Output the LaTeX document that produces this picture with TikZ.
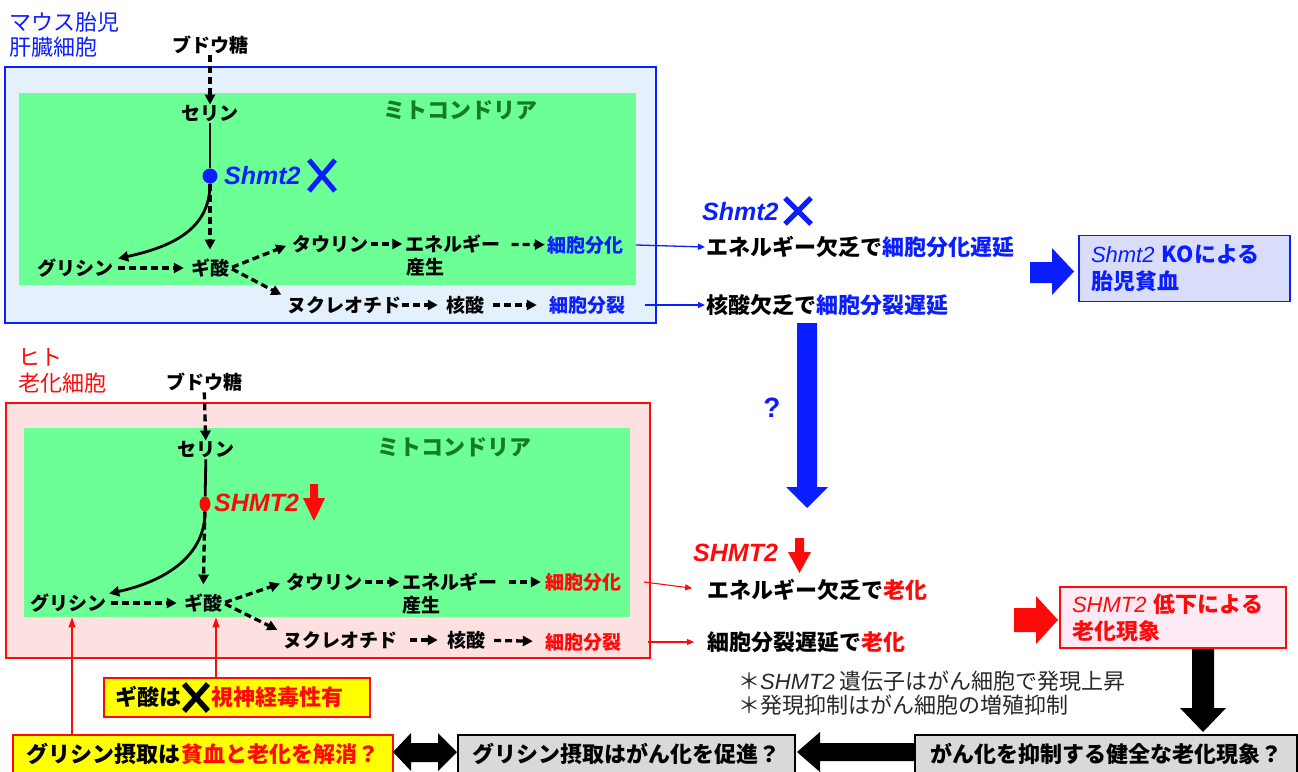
\documentclass[tikz,border=0pt]{standalone}
\usepackage{fontspec}
\setmainfont{Noto Sans CJK JP}
\newfontfamily\arial{Liberation Sans}
\usetikzlibrary{arrows.meta,shapes.geometric}
\definecolor{blueC}{RGB}{10,30,255}
\definecolor{redC}{RGB}{255,10,10}
\definecolor{lblue}{RGB}{228,240,252}
\definecolor{pinkC}{RGB}{253,224,224}
\definecolor{greenC}{RGB}{107,255,149}
\definecolor{dgreen}{RGB}{20,125,35}
\definecolor{lav}{RGB}{218,221,250}
\definecolor{lpink}{RGB}{253,234,245}
\definecolor{yel}{RGB}{255,255,0}
\definecolor{grayC}{RGB}{217,217,217}
\definecolor{noteC}{RGB}{40,40,40}
\begin{document}
\begin{tikzpicture}[x=1pt,y=-1pt,
  lbl/.style={inner sep=1pt, font=\fontsize{19}{21}\selectfont\bfseries},
  big/.style={inner sep=1pt, font=\fontsize{22}{24}\selectfont\bfseries},
  captxt/.style={inner sep=1pt, anchor=west, font=\fontsize{22}{24}\selectfont},
  gene/.style={inner sep=1pt, anchor=west, font=\arial\fontsize{25}{27}\selectfont\bfseries\itshape},
  darr/.style={line width=3.3pt, dash pattern=on 7pt off 4pt, -{Triangle[length=10pt,width=10pt]}},
  sline/.style={line width=2.8pt},
  tarr/.style={line width=1.3pt, -{Triangle[length=7pt,width=6pt]}},
  xmark/.style={line width=5pt},
  box/.style={line width=1.3pt, inner xsep=12pt, inner ysep=2pt, align=left,
     font=\fontsize{22}{27}\selectfont\bfseries},
  bbox/.style={line width=1.3pt, inner sep=2pt, minimum height=38pt,
     font=\fontsize{22}{24}\selectfont\bfseries}
]
\path[use as bounding box] (0,0) rectangle (1298,771);
\clip (0,0) rectangle (1298,771);

% ================= top panel =================
\node[captxt, text=blueC] (mouse) at (8,22) {マウス胎児};
\node[captxt, text=blueC] (liver) at (8,47) {肝臓細胞};
\draw[blueC, line width=1.2pt, fill=lblue] (5,67) rectangle (656,323);
\fill[greenC] (19,93) rectangle (636,285);

\node[lbl] (budo1) at (210,45) {ブドウ糖};
\node[lbl] (serin1) at (210,114) {セリン};
\node[big, text=dgreen] (mito1) at (460,110) {ミトコンドリア};
\node[circle, fill=blueC, minimum size=15pt, inner sep=0] (dot1) at (210,176) {};
\node[gene, text=blueC] (shmt1) at (223,176) {Shmt2};
\draw[xmark, blueC] (309,160) -- (335,191) (335,160) -- (309,191);
\node[lbl] (gly1) at (75,268) {グリシン};
\node[lbl] (gi1) at (210,268) {ギ酸};
\node[lbl] (tau1) at (330,244) {タウリン};
\node[lbl] (ene1) at (453,244) {エネルギー};
\node[lbl] (sansei1) at (425,267) {産生};
\node[lbl, text=blueC] (bunka1) at (585,245) {細胞分化};
\node[lbl] (nuc1) at (344,305) {ヌクレオチド};
\node[lbl] (kaku1) at (465,305) {核酸};
\node[lbl, text=blueC] (bunretsu1) at (587,305) {細胞分裂};

\draw[darr] (budo1) -- (serin1);
\draw[sline] (serin1) -- (dot1);
\draw[sline, -{Triangle[length=10pt,width=10pt]}] (dot1.south) .. controls +(0,45) and +(55,-12) .. ([xshift=4pt,yshift=-1pt]gly1.north east);
\draw[darr, shorten >=8pt] (dot1) -- (gi1);
\draw[darr, shorten <=4pt, shorten >=6pt] (gly1) -- (gi1);
\draw[darr, shorten <=2pt, shorten >=5pt] (gi1.east) -- (tau1.west);
\draw[darr, shorten <=2pt, shorten >=5pt] (gi1.east) -- ([yshift=-2pt]nuc1.north west);
\draw[darr, shorten <=2pt, shorten >=2pt] (tau1) -- (ene1);
\draw[darr, shorten <=10pt, shorten >=1pt] (ene1) -- (bunka1);
\draw[darr, shorten >=7pt] (nuc1) -- (kaku1);
\draw[darr, shorten <=8pt, shorten >=11pt] (kaku1) -- (bunretsu1);

% right of top panel
\node[gene, text=blueC] (shmtR1) at (701,212) {Shmt2};
\draw[xmark, blueC] (785,198) -- (811,224) (811,198) -- (785,224);
\node[big, anchor=west] (r1) at (705,247) {エネルギー欠乏で\textcolor{blueC}{細胞分化遅延}};
\node[big, anchor=west] (r2) at (705,305) {核酸欠乏で\textcolor{blueC}{細胞分裂遅延}};
\draw[tarr, blueC] ([xshift=12pt]bunka1.east) -- (r1.west);
\draw[tarr, blueC] ([xshift=19pt]bunretsu1.east) -- (r2.west);

\fill[blueC] (1030,262) -- (1052,262) -- (1052,248) -- (1074,271.5) -- (1052,295) -- (1052,283) -- (1030,283) -- cycle;
\node[box, draw=blueC, fill=lav, text=blueC, minimum width=211pt, minimum height=66pt, text width=187pt] (ko) at (1184.5,268.5)
  {{\arial\mdseries\itshape Shmt2} KOによる\\胎児貧血};

\fill[blueC] (797,323) -- (817,323) -- (817,487) -- (828,487) -- (807,508) -- (786,487) -- (797,487) -- cycle;
\node[inner sep=0, text=blueC, font=\arial\fontsize{28}{30}\selectfont\bfseries] (q) at (772,408) {?};

% ================= bottom panel =================
\node[captxt, text=redC] (hito) at (17,357) {ヒト};
\node[captxt, text=redC] (roka) at (17,383) {老化細胞};
\draw[redC, line width=1.2pt, fill=pinkC] (6,403) rectangle (650,658);
\fill[greenC] (24,428) rectangle (630,617);

\node[lbl] (budo2) at (204,382) {ブドウ糖};
\node[lbl] (serin2) at (206,450) {セリン};
\node[big, text=dgreen] (mito2) at (454,447) {ミトコンドリア};
\node[ellipse, fill=redC, minimum width=11pt, minimum height=15pt, inner sep=0] (dot2) at (205,504) {};
\node[gene, text=redC] (shmt2) at (213,503) {SHMT2};
\fill[redC] (310,484) -- (318,484) -- (318,498) -- (325,498) -- (314,521) -- (303,498) -- (310,498) -- cycle;
\node[lbl] (gly2) at (68,603) {グリシン};
\node[lbl] (gi2) at (203,603) {ギ酸};
\node[lbl] (tau2) at (324,582) {タウリン};
\node[lbl] (ene2) at (450,582) {エネルギー};
\node[lbl] (sansei2) at (421,605) {産生};
\node[lbl, text=redC] (bunka2) at (583,582) {細胞分化};
\node[lbl] (nuc2) at (340,640) {ヌクレオチド};
\node[lbl] (kaku2) at (466,640) {核酸};
\node[lbl, text=redC] (bunretsu2) at (583,642) {細胞分裂};

\draw[darr] (budo2) -- (serin2);
\draw[sline] (serin2) -- (dot2);
\draw[sline, -{Triangle[length=10pt,width=10pt]}] (dot2.south) .. controls +(0,45) and +(55,-12) .. ([xshift=2pt,yshift=-1pt]gly2.north east);
\draw[darr, shorten >=8pt] (dot2) -- (gi2);
\draw[darr, shorten <=4pt, shorten >=6pt] (gly2) -- (gi2);
\draw[darr, shorten <=2pt, shorten >=5pt] (gi2.east) -- (tau2.west);
\draw[darr, shorten <=2pt, shorten >=5pt] (gi2.east) -- ([yshift=-2pt]nuc2.north west);
\draw[darr, shorten <=2pt, shorten >=2pt] (tau2) -- (ene2);
\draw[darr, shorten <=10pt, shorten >=3pt] (ene2) -- (bunka2);
\draw[darr, shorten <=12pt, shorten >=8pt] (nuc2) -- (kaku2);
\draw[darr, shorten <=8pt, shorten >=11pt] (kaku2) -- (bunretsu2);

% right of bottom panel
\node[gene, text=redC] (shmtR2) at (692,553) {SHMT2};
\fill[redC] (795,538) -- (804,538) -- (804,552) -- (811,552) -- (799.5,573) -- (788,552) -- (795,552) -- cycle;
\node[big, anchor=west] (r3) at (706,590) {エネルギー欠乏で\textcolor{redC}{老化}};
\node[big, anchor=west] (r4) at (706,642) {細胞分裂遅延で\textcolor{redC}{老化}};
\draw[tarr, redC, line width=1.1pt, shorten >=14pt] ([xshift=22pt]bunka2.east) -- (r3.west);
\draw[tarr, redC, line width=1.1pt, shorten >=12pt] ([xshift=26pt]bunretsu2.east) -- (r4.west);

\fill[redC] (1014,608) -- (1036,608) -- (1036,596) -- (1058,620) -- (1036,644) -- (1036,632) -- (1014,632) -- cycle;
\node[box, draw=redC, fill=lpink, text=redC, minimum width=226pt, minimum height=61pt, text width=202pt] (sen) at (1173,617.5)
  {{\arial\mdseries\itshape SHMT2} 低下による\\老化現象};

\node[captxt, text=noteC] (note1) at (737,681) {＊{\arial\itshape SHMT2} 遺伝子はがん細胞で発現上昇};
\node[captxt, text=noteC] (note2) at (737,705) {＊発現抑制はがん細胞の増殖抑制};

% ================= bottom row =================
\node[draw=redC, line width=2pt, fill=yel, minimum width=266pt, minimum height=39pt, inner sep=0] (gibox) at (237,697.5) {};
\node[big, anchor=west] (gitext) at (114,697) {ギ酸は\hspace{30pt}\textcolor{redC}{視神経毒性有}};
\draw[xmark, black, line width=5.5pt] (184,684) -- (208,711) (208,684) -- (184,711);

\node[bbox, draw=redC, line width=1.5pt, fill=yel, minimum width=380pt] (q1) at (203,754)
  {グリシン摂取は\textcolor{redC}{貧血と老化を解消？}};
\node[bbox, draw=black, fill=grayC, minimum width=337pt] (q2) at (626.5,754) {グリシン摂取はがん化を促進？};
\node[bbox, draw=black, fill=grayC, minimum width=382pt] (q3) at (1106,754) {がん化を抑制する健全な老化現象？};

\fill[black] (393,752) -- (411,733) -- (411,743) -- (438,743) -- (438,733) -- (457,752) -- (438,771) -- (438,762) -- (411,762) -- (411,771) -- cycle;
\fill[black] (797,752) -- (820,732) -- (820,743) -- (915,743) -- (915,761) -- (820,761) -- (820,772) -- cycle;
\fill[black] (1192,649) -- (1214,649) -- (1214,708) -- (1226,708) -- (1203,732) -- (1180,708) -- (1192,708) -- cycle;

\draw[redC, line width=1.1pt, -{Triangle[length=10pt,width=7pt]}, shorten >=4pt] ([xshift=-131pt]q1.north) -- ([xshift=4pt]gly2.south);
\draw[redC, line width=1.1pt, -{Triangle[length=10pt,width=7pt]}, shorten >=4pt] ([xshift=-21pt]gibox.north) -- ([xshift=13pt]gi2.south);
\end{tikzpicture}
\end{document}
